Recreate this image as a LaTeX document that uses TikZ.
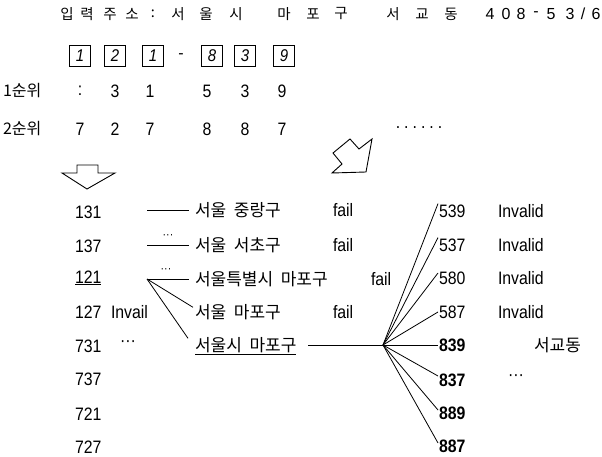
\documentclass[tikz,border=0pt]{standalone}
\usepackage{fontspec}
\setmainfont{Liberation Sans}[FakeStretch=0.88]
\newfontfamily\kr{Noto Sans CJK KR}[WordSpace=2]
\newfontfamily\tnum{Liberation Sans}
\usetikzlibrary{calc}
\begin{document}
\begin{tikzpicture}[x=1pt,y=-1pt,
  every node/.style={inner sep=1pt, outer sep=0pt},
  ttl/.style={font=\kr\fontsize{14.5}{14.5}\selectfont},
  ttn/.style={font=\tnum\fontsize{16}{16}\selectfont},
  hbox/.style={draw, line width=0.9pt, minimum width=21pt, minimum height=21pt, font=\itshape\fontsize{17}{17}\selectfont},
  num/.style={font=\fontsize{18}{18}\selectfont, anchor=west},
  cnum/.style={font=\fontsize{18}{18}\selectfont},
  bnum/.style={font=\bfseries\fontsize{18}{18}\selectfont, anchor=west},
  krt/.style={font=\kr\fontsize{17}{17}\selectfont, anchor=west},
  mkr/.style={krt, inner xsep=6pt},
  lbl/.style={font=\kr\fontsize{16}{16}\selectfont, anchor=west},
  edge/.style={line width=0.8pt},
  hollow/.style={line width=0.9pt, line join=miter}]
\useasboundingbox (0,0) rectangle (602,457);
% title
\foreach \c/\x [count=\i] in {입/67,력/87,주/110,소/132,:/153,서/178,울/206,시/236,마/284,포/313,구/341,서/393,교/422,동/451}
  \node[ttl] (t\i) at (\x,14) {\c};
\foreach \c/\x [count=\i] in {4/490,0/506,8/521,-/536,5/551,3/570,{/}/583,6/596}
  \node[ttn] (tn\i) at (\x,14) {\c};
% handwritten boxes
\foreach \d/\x [count=\i] in {1/80,2/115,1/153,8/212,3/245,9/284}
  \node[hbox] (b\i) at (\x,56) {\d};
\node[ttn] (bd) at (181,56) {-};
% ranking rows
\node[lbl] (r1) at (2,91) {1순위};
\node[lbl] (r2) at (2,129) {2순위};
\foreach \d/\x [count=\i] in {:/80,3/115,1/150,5/207,3/245,9/282}
  \node[cnum] (p\i) at (\x,91) {\d};
\foreach \d/\x [count=\i] in {7/80,2/115,7/150,8/207,8/245,7/282}
  \node[cnum] (q\i) at (\x,129) {\d};
\node[cnum] (dots) at (419,128) {.\hspace{4pt}.\hspace{4pt}.\hspace{4pt}.\hspace{4pt}.\hspace{4pt}.};
% hollow arrows
\draw[hollow] (77,173) -- (77,165) -- (98,165) -- (98,173) -- (115,173) -- (87,189) -- (62,173) -- cycle;
\draw[hollow] (350,139) -- (359,149) -- (372,139) -- (366,172) -- (332,173) -- (342,164) -- (333,153) -- cycle;
% left column
\foreach \t/\y [count=\i] in {131/212,137/246,\underline{121}/278,127/312,731/346,737/379,721/414,727/447}
  \node[num] (l\i) at (74,\y) {\t};
\node[num] (inv) at (110,312) {Invail};
\node[num] (ld) at (119,344) {\textperiodcentered\textperiodcentered\textperiodcentered};
% middle column
\coordinate (a1) at (147,210);
\coordinate (a2) at (147,245);
\coordinate (a3) at (147,279);
\node[mkr] (m1) at (189,210) {서울 중랑구};
\node[mkr] (m2) at (189,245) {서울 서초구};
\node[mkr] (m3) at (189,279) {서울특별시 마포구};
\node[mkr] (m4) at (189,312) {서울 마포구};
\node[mkr] (m5) at (189,346) {\underline{서울시 마포구}};
\node[font=\fontsize{12}{12}\selectfont] (d2) at (168,237) {\textperiodcentered\textperiodcentered\textperiodcentered};
\node[font=\fontsize{12}{12}\selectfont] (d3) at (166,271) {\textperiodcentered\textperiodcentered\textperiodcentered};
\draw[edge] (a1) -- (m1.west);
\draw[edge] (a2) -- (m2.west);
\draw[edge] (a3) -- (m3.west);
\draw[edge] (a3) -- ($(m4.north west)+(4,4)$);
\draw[edge] (a3) -- ($(m5.north west)+(-1,2)$);
\node[num] (f1) at (332,210) {fail};
\node[num] (f2) at (332,245) {fail};
\node[num] (f3) at (370,279) {fail};
\node[num] (f4) at (332,312) {fail};
% right column
\coordinate (hub) at (383,345);
\node[num] (n1) at (438,211) {539};
\node[num] (n2) at (438,245) {537};
\node[num] (n3) at (438,278) {580};
\node[num] (n4) at (438,312) {587};
\node[bnum] (n5) at (438,345) {839};
\node[bnum] (n6) at (438,380) {837};
\node[bnum] (n7) at (438,413) {889};
\node[bnum] (n8) at (438,446) {887};
\foreach \y [count=\i] in {211,245,278,312}
  \node[num] (iv\i) at (497,\y) {Invalid};
\node[krt] (sg) at (533,345) {서교동};
\node[num] (rd) at (507,378) {\textperiodcentered\textperiodcentered\textperiodcentered};
\draw[edge] ($(m5.east)+(6,-1)$) -- (hub);
\draw[edge] (hub) -- (n1.north west);
\draw[edge] (hub) -- (n2.north west);
\draw[edge] (hub) -- ($(n3.west)+(0,-5)$);
\draw[edge] (hub) -- (n4.west);
\draw[edge] (hub) -- (n5.west);
\draw[edge] (hub) -- ($(n6.west)+(0,-4)$);
\draw[edge] (hub) -- ($(n7.west)+(0,-3)$);
\draw[edge] (hub) -- ($(n8.west)+(0,-3)$);
\end{tikzpicture}
\end{document}
